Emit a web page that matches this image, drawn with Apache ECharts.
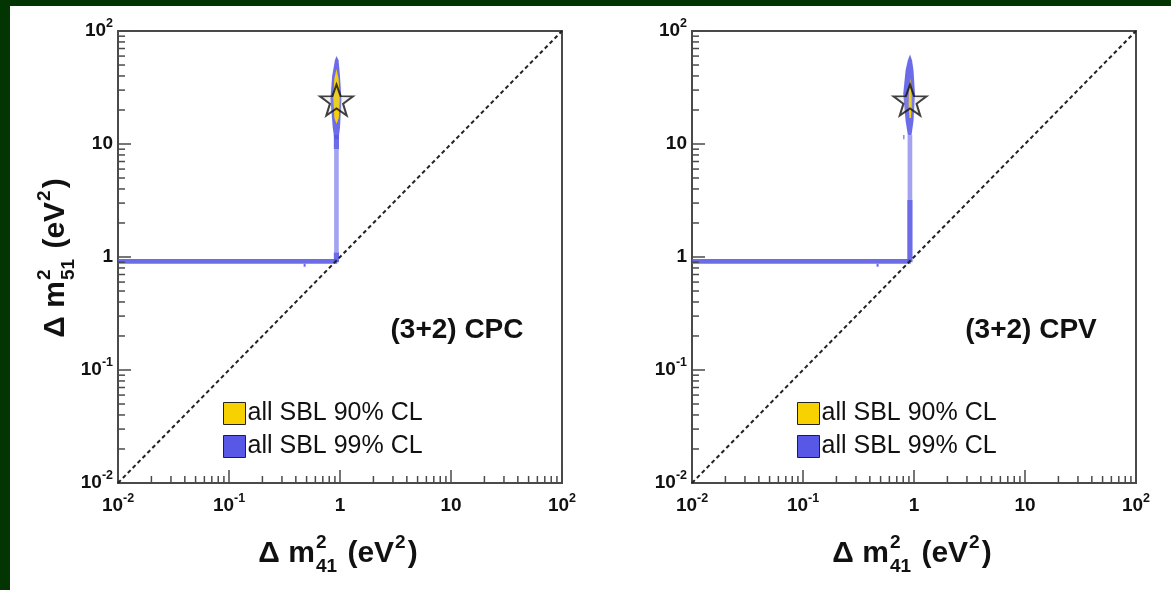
<!DOCTYPE html>
<html><head><meta charset="utf-8">
<script src="https://cdn.jsdelivr.net/npm/echarts@6/dist/echarts.min.js"></script>
<style>html,body{margin:0;padding:0;background:#fff}#c{width:1171px;height:590px}</style>
</head><body><div id="c"></div>
<script>
// ---------- data ----------
const majorTicks = [0.01, 0.1, 1, 10, 100];
const tickLabels = ['10^-2', '10^-1', '1', '10', '10^2'];
const minorTicks = [0.02,0.03,0.04,0.05,0.06,0.07,0.08,0.09,
                    0.2,0.3,0.4,0.5,0.6,0.7,0.8,0.9,
                    2,3,4,5,6,7,8,9,
                    20,30,40,50,60,70,80,90];
const diagonal = [[0.01, 0.01], [100, 100]];
const legendNames = ['all SBL 90% CL', 'all SBL 99% CL'];
const panelLabels = ['(3+2) CPC', '(3+2) CPV'];
const bestFitCPC = [[0.93, 24.5]];
const bestFitCPV = [[0.92, 24.5]];

// allowed regions (polygon vertices, [dm41, dm51] in eV^2)
const cpc99Dense = [
  [[0.01,0.87],[0.945,0.87],[0.945,0.96],[0.01,0.96]],
  [[0.47,0.82],[0.49,0.82],[0.49,0.87],[0.47,0.87]],
  [[0.88,0.9],[0.98,0.9],[0.98,1.1],[0.88,1.1]],
  [[0.88,9],[0.98,9],[0.98,12],[0.88,12]],
  [[0.93,60],[0.97,55],[1.0,40],[1.03,25],[1.0,14],[0.97,11],[0.89,11],[0.86,14],[0.82,25],[0.85,40],[0.9,55]]
];
const cpc99Sparse = [
  [[0.885,1.1],[0.975,1.1],[0.975,9],[0.885,9]]
];
const cpc90 = [
  [[0.93,46],[0.97,38],[0.995,26],[0.975,17],[0.93,15],[0.89,17],[0.87,26],[0.89,38]]
];
const cpv99Dense = [
  [[0.01,0.87],[0.935,0.87],[0.935,0.96],[0.01,0.96]],
  [[0.46,0.82],[0.48,0.82],[0.48,0.87],[0.46,0.87]],
  [[0.87,0.9],[0.97,0.9],[0.97,3.2],[0.87,3.2]],
  [[0.92,62],[0.96,55],[0.99,45],[1.02,28],[0.99,16],[0.95,12],[0.88,12],[0.84,16],[0.8,28],[0.84,45],[0.88,55]],
  [[0.8,11],[0.82,11],[0.82,12],[0.8,12]]
];
const cpv99Sparse = [
  [[0.875,3.2],[0.965,3.2],[0.965,12],[0.875,12]]
];
const cpv90 = [
  [[0.925,38],[0.95,30],[0.955,22],[0.94,17],[0.91,17],[0.895,22],[0.9,30]]
];

// ---------- helpers ----------
const FONT = '"Liberation Sans", Arial, Helvetica, sans-serif';
const AX = '#4a4a4a';
const BLUE = 'rgba(88,88,230,0.88)';
const BLUE_SPARSE = 'rgba(88,88,230,0.55)';
const YELLOW = '#f7d200';
const starPath = 'path://M50 2 L61.76 35.82 L97.55 36.55 L69.02 58.18 L79.39 92.45 L50 72 L20.61 92.45 L30.98 58.18 L2.45 36.55 L38.24 35.82 Z';

function labelFmt(v) {
  const e = Math.round(Math.log10(v));
  const idx = majorTicks.findIndex(t => Math.round(Math.log10(t)) === e);
  const lab = idx >= 0 ? tickLabels[idx] : String(v);
  const parts = lab.split('^');
  return parts.length > 1 ? '{m|' + parts[0] + '}{s|' + parts[1] + '}' : '{m|' + lab + '}';
}
const labelRich = {
  m: {fontSize: 19, fontWeight: 'bold', fontFamily: FONT, color: '#111', lineHeight: 28},
  s: {fontSize: 12.5, fontWeight: 'bold', fontFamily: FONT, color: '#111', lineHeight: 12, verticalAlign: 'top'}
};
function axisCommon(i, isX) {
  return {
    type: 'log', logBase: 10, gridIndex: i, min: 0.01, max: 100,
    axisLine: {show: true, onZero: false, lineStyle: {color: AX, width: 2}},
    axisTick: {show: true, inside: true, length: 13, lineStyle: {color: AX, width: 1.5}},
    minorTick: {show: false}, splitLine: {show: false},
    axisLabel: {margin: isX ? 9 : 5, formatter: labelFmt, rich: labelRich, showMinLabel: true, showMaxLabel: true, hideOverlap: false}
  };
}
function polySeries(name, polys, fill, i, z) {
  return {
    type: 'custom', name: name, xAxisIndex: i, yAxisIndex: i, z: z, clip: true,
    itemStyle: {color: name === legendNames[0] ? YELLOW : 'rgb(88,88,230)'},
    data: polys.map(p => p[0]),
    renderItem: function (params, api) {
      const pts = polys[params.dataIndex].map(p => api.coord(p));
      return {type: 'polygon', shape: {points: pts}, style: {fill: fill}};
    }
  };
}
function tickSeries(i, isX) {
  return {
    type: 'custom', xAxisIndex: i, yAxisIndex: i, z: 6, clip: false, silent: true,
    data: minorTicks.map(v => isX ? [v, 0.01] : [0.01, v]),
    renderItem: function (params, api) {
      const p = api.coord([api.value(0), api.value(1)]);
      const s = {stroke: AX, lineWidth: 1.5};
      return isX ? {type: 'line', shape: {x1: p[0], y1: p[1], x2: p[0], y2: p[1] - 7}, style: s}
                 : {type: 'line', shape: {x1: p[0], y1: p[1], x2: p[0] + 7, y2: p[1]}, style: s};
    }
  };
}
const mctx = document.createElement('canvas').getContext('2d');
function textW(t, size) { mctx.font = 'bold ' + size + 'px ' + FONT; return mctx.measureText(t).width; }
function txt(t, x, y, size) {
  return {type: 'text', x: x, y: y, style: {text: t, font: 'bold ' + size + 'px ' + FONT, fill: '#111', align: 'left', verticalAlign: 'middle'}};
}
function mathTitle(pieces, cx, cy, rot) {
  const F = 30, f = 19;
  const children = []; let x = 0;
  pieces.forEach(p => {
    if (p.main) { children.push(txt(p.main, x, 0, F)); x += textW(p.main, F); }
    else {
      let w = 0;
      if (p.sup) { children.push(txt(p.sup, x + 1, -0.38 * F, f)); w = Math.max(w, textW(p.sup, f) + 1); }
      if (p.sub) { children.push(txt(p.sub, x + 1, 0.42 * F, f)); w = Math.max(w, textW(p.sub, f) + 1); }
      x += w + 2;
    }
  });
  children.forEach(c => { c.x -= x / 2; });
  return {type: 'group', x: cx, y: cy, rotation: rot, children: children};
}

// ---------- layout ----------
const panels = [
  {left: 118, d99: cpc99Dense, s99: cpc99Sparse, d90: cpc90, best: bestFitCPC},
  {left: 692, d99: cpv99Dense, s99: cpv99Sparse, d90: cpv90, best: bestFitCPV}
];
const grids = [], xAxes = [], yAxes = [], series = [], legends = [], graphics = [];
graphics.push({type: 'rect', shape: {x: 0, y: 0, width: 1171, height: 6}, style: {fill: '#023502'}});
graphics.push({type: 'rect', shape: {x: 0, y: 0, width: 10, height: 590}, style: {fill: '#023502'}});
panels.forEach((P, i) => {
  grids.push({left: P.left, top: 31, width: 444, height: 452, show: true, borderColor: AX, borderWidth: 2, backgroundColor: 'transparent'});
  xAxes.push(axisCommon(i, true));
  yAxes.push(axisCommon(i, false));
  series.push(polySeries(legendNames[1], P.d99, BLUE, i, 2));
  series.push(polySeries(legendNames[1], P.s99, BLUE_SPARSE, i, 2));
  series.push(polySeries(legendNames[0], P.d90, YELLOW, i, 3));
  series.push({type: 'line', name: 'diag' + i, xAxisIndex: i, yAxisIndex: i, data: diagonal, symbol: 'none', z: 4, silent: true,
    lineStyle: {color: '#222', width: 2, type: [4, 3]}});
  series.push({type: 'scatter', name: 'best' + i, xAxisIndex: i, yAxisIndex: i, data: P.best, symbol: starPath, symbolSize: [33, 31], z: 5,
    itemStyle: {color: 'rgba(190,190,190,0.25)', borderColor: '#111', borderWidth: 2}});
  series.push(tickSeries(i, true));
  series.push(tickSeries(i, false));
  const off = P.left - 118;
  legends.push({left: 218 + off, top: 396, orient: 'vertical', itemWidth: 22, itemHeight: 22, itemGap: 8, selectedMode: false,
    data: legendNames, icon: 'rect', itemStyle: {borderColor: '#222', borderWidth: 1},
    textStyle: {fontSize: 25, color: '#111', fontFamily: FONT, padding: [0, 0, 0, -3]}});
  graphics.push({type: 'text', x: 457 + off, y: 330, style: {text: panelLabels[i], font: 'bold 28px ' + FONT, fill: '#111', align: 'center', verticalAlign: 'middle'}});
  graphics.push(mathTitle([{main: 'Δ m'}, {sup: '2', sub: '41'}, {main: ' (eV'}, {sup: '2'}, {main: ')'}], 338 + off, 554, 0));
});
graphics.push(mathTitle([{main: 'Δ m'}, {sup: '2', sub: '51'}, {main: ' (eV'}, {sup: '2'}, {main: ')'}], 56, 258, Math.PI / 2));

const chart = echarts.init(document.getElementById('c'), null, {renderer: 'canvas'});
chart.setOption({
  animation: false, backgroundColor: '#fff',
  grid: grids, xAxis: xAxes, yAxis: yAxes, series: series, legend: legends, graphic: graphics
});
</script></body></html>
